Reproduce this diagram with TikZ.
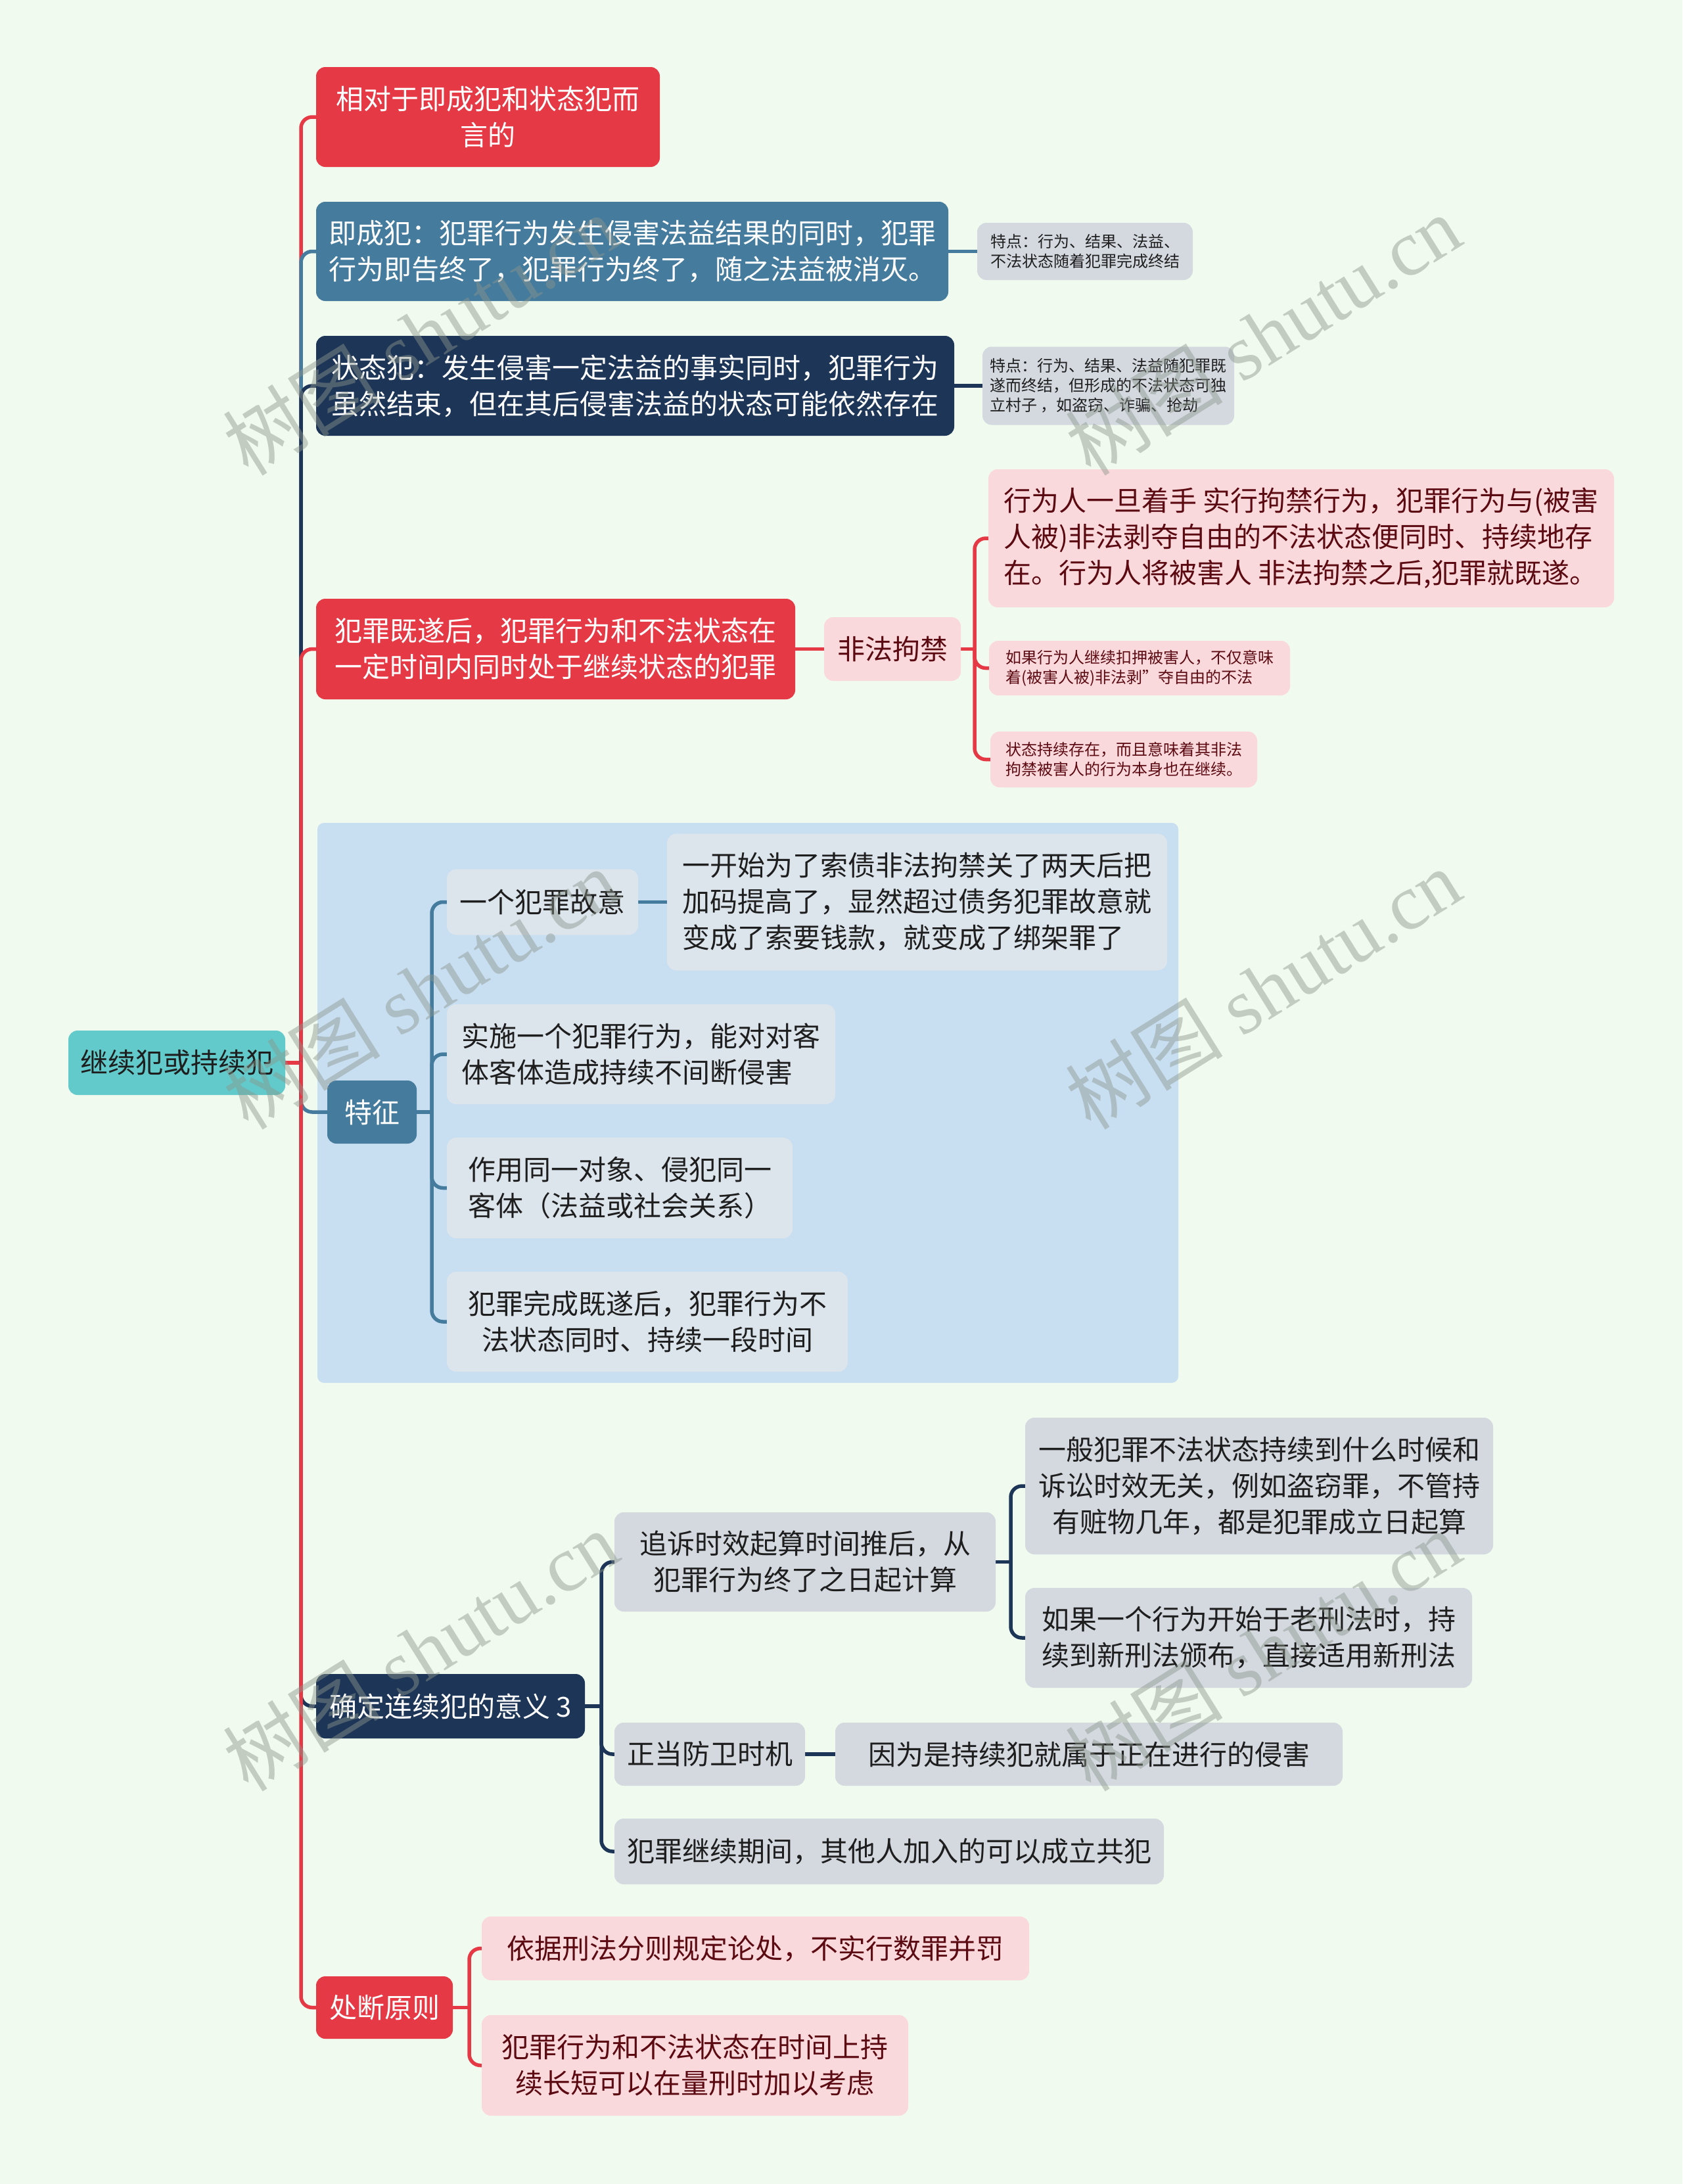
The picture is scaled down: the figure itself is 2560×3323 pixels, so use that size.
\documentclass[tikz,border=0pt]{standalone}
\usepackage{fontspec}
\setmainfont{Noto Sans CJK SC}
\newfontfamily\wmserif{Liberation Serif}
\definecolor{cbg}{HTML}{F1FAEE}
\definecolor{cred}{HTML}{E63946}
\definecolor{cblue}{HTML}{457B9D}
\definecolor{cnavy}{HTML}{1D3557}
\definecolor{cteal}{HTML}{62CACB}
\definecolor{cpink}{HTML}{FAD9DC}
\definecolor{cmaroon}{HTML}{5C0A12}
\definecolor{cgray}{HTML}{D4D9E0}
\definecolor{clgray}{HTML}{DCE4EC}
\definecolor{cgroup}{HTML}{C8DEF1}
\definecolor{ctxt}{HTML}{1E1E1E}
\definecolor{cwm}{HTML}{8C968C}
\pgfdeclarelayer{back}
\pgfdeclarelayer{edges}
\pgfdeclarelayer{front}
\pgfsetlayers{back,edges,main,front}
\tikzset{
  base/.style={rounded corners=14pt, inner sep=0pt, align=center, font=\fontsize{42}{55}\selectfont},
  smalltxt/.style={font=\fontsize{24}{30}\selectfont},
  redbox/.style={base, fill=cred, text=white},
  bluebox/.style={base, fill=cblue, text=white},
  navybox/.style={base, fill=cnavy, text=white},
  rootbox/.style={base, fill=cteal, text=ctxt},
  pinkbox/.style={base, fill=cpink, text=cmaroon},
  graybox/.style={base, fill=cgray, text=ctxt},
  lgraybox/.style={base, fill=clgray, text=ctxt},
  ln/.style={line width=5.5pt, line cap=round},
  brk/.style={ln, rounded corners=17pt},
  wm/.style={rotate=32, text=cwm, opacity=0.45, font=\fontsize{120}{120}\selectfont}
}
\begin{document}
\begin{tikzpicture}[x=1pt,y=-1pt]
\useasboundingbox (0,0) rectangle (2560,3323);
\begin{pgfonlayer}{back}
\fill[cbg] (0,0) rectangle (2560,3323);
\fill[cgroup, rounded corners=10pt] (483,1252) rectangle (1793,2104);
\end{pgfonlayer}

% root
\node[rootbox, minimum width=330pt, minimum height=98pt] (root) at (269,1617) {继续犯或持续犯};

% branch 1
\node[redbox, minimum width=523pt, minimum height=152pt] (n1) at (742.5,178) {相对于即成犯和状态犯而\\言的};
% branch 2
\node[bluebox, align=left, minimum width=962pt, minimum height=151pt] (n2) at (962,382.5) {即成犯：犯罪行为发生侵害法益结果的同时，犯罪\\行为即告终了，犯罪行为终了，随之法益被消灭。};
\node[graybox, smalltxt, align=left, minimum width=328pt, minimum height=87pt] (n2a) at (1651,382.5) {特点：行为、结果、法益、\\不法状态随着犯罪完成终结};
% branch 3
\node[navybox, align=left, minimum width=971pt, minimum height=152pt] (n3) at (966.5,587) {状态犯：发生侵害一定法益的事实同时，犯罪行为\\虽然结束，但在其后侵害法益的状态可能依然存在};
\node[graybox, smalltxt, align=left, minimum width=383pt, minimum height=119pt] (n3a) at (1686.5,587) {特点：行为、结果、法益随犯罪既\\遂而终结，但形成的不法状态可独\\立村子 ，如盗窃、诈骗、抢劫};
% branch 4
\node[redbox, minimum width=729pt, minimum height=153pt] (n4) at (845.5,987.5) {犯罪既遂后，犯罪行为和不法状态在\\一定时间内同时处于继续状态的犯罪};
\node[pinkbox, minimum width=208pt, minimum height=97pt] (n4a) at (1358,987.5) {非法拘禁};
\node[pinkbox, align=left, minimum width=952pt, minimum height=210pt] (n4b) at (1980,819) {行为人一旦着手 实行拘禁行为，犯罪行为与(被害\\人被)非法剥夺自由的不法状态便同时、持续地存\\在。行为人将被害人 非法拘禁之后,犯罪就既遂。};
\node[pinkbox, smalltxt, align=left, minimum width=458pt, minimum height=83pt] (n4c) at (1734,1016.5) {如果行为人继续扣押被害人，不仅意味\\着(被害人被)非法剥"夺自由的不法};
\node[pinkbox, smalltxt, align=left, minimum width=406pt, minimum height=85pt] (n4d) at (1710,1155.5) {状态持续存在，而且意味着其非法\\拘禁被害人的行为本身也在继续。};
% branch 5
\node[bluebox, minimum width=136pt, minimum height=96pt] (n5) at (566,1692) {特征};
\node[lgraybox, minimum width=291pt, minimum height=100pt] (n5a) at (825.5,1372.5) {一个犯罪故意};
\node[lgraybox, align=left, minimum width=761pt, minimum height=208pt] (n5a1) at (1395.5,1372.5) {一开始为了索债非法拘禁关了两天后把\\加码提高了，显然超过债务犯罪故意就\\变成了索要钱款，就变成了绑架罪了};
\node[lgraybox, align=left, minimum width=591pt, minimum height=152pt] (n5b) at (975.5,1604) {实施一个犯罪行为，能对对客\\体客体造成持续不间断侵害};
\node[lgraybox, align=left, minimum width=526pt, minimum height=153pt] (n5c) at (943,1807.5) {作用同一对象、侵犯同一\\客体（法益或社会关系）};
\node[lgraybox, minimum width=610pt, minimum height=152pt] (n5d) at (985,2011) {犯罪完成既遂后，犯罪行为不\\法状态同时、持续一段时间};
% branch 6
\node[navybox, minimum width=409pt, minimum height=98pt] (n6) at (685.5,2596) {确定连续犯的意义 3};
\node[graybox, minimum width=580pt, minimum height=151pt] (n6a) at (1225,2376.5) {追诉时效起算时间推后，从\\犯罪行为终了之日起计算};
\node[graybox, minimum width=712pt, minimum height=208pt] (n6a1) at (1916,2261) {一般犯罪不法状态持续到什么时候和\\诉讼时效无关，例如盗窃罪，不管持\\有赃物几年，都是犯罪成立日起算};
\node[graybox, minimum width=680pt, minimum height=152pt] (n6a2) at (1900,2492) {如果一个行为开始于老刑法时，持\\续到新刑法颁布，直接适用新刑法};
\node[graybox, minimum width=290pt, minimum height=96pt] (n6b) at (1080,2669) {正当防卫时机};
\node[graybox, minimum width=772pt, minimum height=96pt] (n6b1) at (1657,2669) {因为是持续犯就属于正在进行的侵害};
\node[graybox, minimum width=836pt, minimum height=100pt] (n6c) at (1353,2817) {犯罪继续期间，其他人加入的可以成立共犯};
% branch 7
\node[redbox, minimum width=208pt, minimum height=95pt] (n7) at (585,3054.5) {处断原则};
\node[pinkbox, minimum width=833pt, minimum height=97pt] (n7a) at (1149.5,2964.5) {依据刑法分则规定论处，不实行数罪并罚};
\node[pinkbox, minimum width=649pt, minimum height=153pt] (n7b) at (1057.5,3142.5) {犯罪行为和不法状态在时间上持\\续长短可以在量刑时加以考虑};

% junction coordinates
\coordinate (tr) at (458,1617);
\coordinate (b4) at (1483,987.5);
\coordinate (b5) at (657,1692);
\coordinate (b6) at (915,2596);
\coordinate (b6a) at (1538,2376.5);
\coordinate (b7) at (714,3054.5);

\begin{pgfonlayer}{edges}
\draw[ln, cred] (root.east) -- (tr);
\draw[brk, cred] (tr) |- (n1.west);
\draw[brk, cblue] (tr) |- (n2.west);
\draw[brk, cnavy] (tr) |- (n3.west);
\draw[brk, cred] (tr) |- (n4.west);
\draw[brk, cblue] (tr) |- (n5.west);
\draw[brk, cnavy] (tr) |- (n6.west);
\draw[brk, cred] (tr) |- (n7.west);

\draw[ln, cblue] (n2.east) -- (n2a.west);
\draw[ln, cnavy] (n3.east) -- (n3a.west);
\draw[ln, cred] (n4.east) -- (n4a.west);
\draw[ln, cred] (n4a.east) -- (b4);
\draw[brk, cred] (b4) |- (n4b.west);
\draw[brk, cred] (b4) |- (n4c.west);
\draw[brk, cred] (b4) |- (n4d.west);

\draw[ln, cblue] (n5.east) -- (b5);
\draw[brk, cblue] (b5) |- (n5a.west);
\draw[brk, cblue] (b5) |- (n5b.west);
\draw[brk, cblue] (b5) |- (n5c.west);
\draw[brk, cblue] (b5) |- (n5d.west);
\draw[ln, cblue] (n5a.east) -- (n5a1.west);

\draw[ln, cnavy] (n6.east) -- (b6);
\draw[brk, cnavy] (b6) |- (n6a.west);
\draw[brk, cnavy] (b6) |- (n6b.west);
\draw[brk, cnavy] (b6) |- (n6c.west);
\draw[ln, cnavy] (n6a.east) -- (b6a);
\draw[brk, cnavy] (b6a) |- (n6a1.west);
\draw[brk, cnavy] (b6a) |- (n6a2.west);
\draw[ln, cnavy] (n6b.east) -- (n6b1.west);

\draw[ln, cred] (n7.east) -- (b7);
\draw[brk, cred] (b7) |- (n7a.west);
\draw[brk, cred] (b7) |- (n7b.west);
\end{pgfonlayer}

\begin{pgfonlayer}{front}
\node[wm] (w1) at (640,509) {树图\hspace{30pt}{\wmserif shutu.cn}};
\node[wm] (w2) at (1922,509) {树图\hspace{30pt}{\wmserif shutu.cn}};
\node[wm] (w3) at (640,1504) {树图\hspace{30pt}{\wmserif shutu.cn}};
\node[wm] (w4) at (1922,1504) {树图\hspace{30pt}{\wmserif shutu.cn}};
\node[wm] (w5) at (640,2511) {树图\hspace{30pt}{\wmserif shutu.cn}};
\node[wm] (w6) at (1922,2511) {树图\hspace{30pt}{\wmserif shutu.cn}};
\end{pgfonlayer}
\end{tikzpicture}
\end{document}
